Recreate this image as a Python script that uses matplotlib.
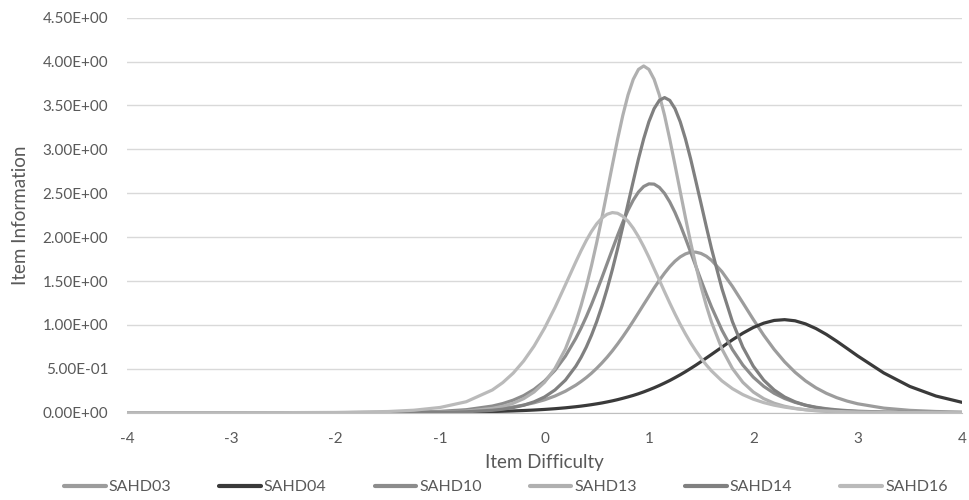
import matplotlib
matplotlib.use('Agg')
import matplotlib.pyplot as plt
from matplotlib.ticker import FuncFormatter, MultipleLocator

plt.rcParams['font.family'] = ['Lato', 'DejaVu Sans']

# item difficulty (theta) grid, denser around the peaks
theta = [-4, -3.5, -3, -2.5, -2, -1.5, -1.25, -1, -0.75,
         -0.5, -0.4, -0.3, -0.2, -0.1, 0, 0.1, 0.2,
         0.3, 0.35, 0.4, 0.45, 0.5, 0.55, 0.6, 0.65, 0.7, 0.75,
         0.8, 0.85, 0.9, 0.95, 1.0, 1.05, 1.1, 1.15, 1.2, 1.25,
         1.3, 1.35, 1.4, 1.45, 1.5, 1.55, 1.6,
         1.7, 1.8, 1.9, 2.0, 2.1, 2.2, 2.3, 2.4, 2.5,
         2.6, 2.7, 2.8, 2.9, 3.0, 3.25, 3.5, 3.75, 4]

sahd03 = [0, 0, 0, 0.0002, 0.0007, 0.0026, 0.0052, 0.0102, 0.020,
          0.039, 0.051, 0.0665, 0.0867, 0.113, 0.1465, 0.190, 0.245,
          0.314, 0.355, 0.400, 0.450, 0.506, 0.567, 0.633, 0.705, 0.783, 0.866,
          0.953, 1.044, 1.138, 1.233, 1.326, 1.421, 1.508, 1.590, 1.664, 1.726,
          1.775, 1.809, 1.829, 1.829, 1.814, 1.783, 1.736,
          1.606, 1.439, 1.252, 1.063, 0.883, 0.721, 0.580, 0.461, 0.363,
          0.284, 0.221, 0.171, 0.132, 0.1017, 0.0524, 0.0268, 0.0137, 0.007]

sahd04 = [0, 0, 0.0001, 0.0002, 0.0006, 0.0017, 0.0029, 0.0048, 0.0081,
          0.0134, 0.0165, 0.0202, 0.0248, 0.0304, 0.0372, 0.0456, 0.0557,
          0.0681, 0.0751, 0.083, 0.0916, 0.101, 0.111, 0.1227, 0.135, 0.1487, 0.164,
          0.180, 0.197, 0.216, 0.237, 0.260, 0.284, 0.310, 0.338, 0.367, 0.399,
          0.432, 0.467, 0.504, 0.542, 0.582, 0.623, 0.664,
          0.747, 0.830, 0.906, 0.971, 1.020, 1.051, 1.060, 1.047, 1.012,
          0.959, 0.892, 0.814, 0.731, 0.647, 0.453, 0.299, 0.190, 0.118]

sahd10 = [0, 0, 0, 0.0001, 0.0006, 0.003, 0.0068, 0.0152, 0.034,
          0.0758, 0.104, 0.143, 0.195, 0.266, 0.360, 0.483, 0.644,
          0.847, 0.964, 1.093, 1.233, 1.383, 1.539, 1.700, 1.861, 2.020, 2.170,
          2.306, 2.422, 2.514, 2.577, 2.607, 2.604, 2.567, 2.498, 2.401, 2.281,
          2.141, 1.988, 1.829, 1.668, 1.507, 1.352, 1.204,
          0.940, 0.720, 0.543, 0.405, 0.300, 0.221, 0.162, 0.118, 0.086,
          0.0626, 0.0454, 0.033, 0.024, 0.0174, 0.0077, 0.0035, 0.0015, 0.0007]

sahd13 = [0, 0, 0, 0, 0.0001, 0.001, 0.0025, 0.0068, 0.018,
          0.049, 0.073, 0.108, 0.160, 0.236, 0.346, 0.504, 0.726,
          1.031, 1.221, 1.435, 1.675, 1.939, 2.223, 2.521, 2.821, 3.115, 3.387,
          3.620, 3.798, 3.911, 3.950, 3.911, 3.798, 3.620, 3.387, 3.115, 2.821,
          2.521, 2.223, 1.939, 1.675, 1.435, 1.221, 1.031,
          0.726, 0.504, 0.346, 0.236, 0.160, 0.108, 0.073, 0.049, 0.033,
          0.022, 0.015, 0.010, 0.0068, 0.0046, 0.0017, 0.0006, 0.0002, 0.0001]

sahd14 = [0, 0, 0, 0, 0.0001, 0.0006, 0.0016, 0.0041, 0.0107,
          0.0275, 0.040, 0.0585, 0.085, 0.124, 0.179, 0.259, 0.371,
          0.530, 0.630, 0.747, 0.883, 1.038, 1.215, 1.412, 1.631, 1.868, 2.120,
          2.380, 2.637, 2.891, 3.120, 3.315, 3.464, 3.558, 3.590, 3.558, 3.464,
          3.315, 3.120, 2.891, 2.637, 2.380, 2.120, 1.868,
          1.412, 1.038, 0.747, 0.530, 0.371, 0.259, 0.179, 0.124, 0.085,
          0.0585, 0.040, 0.0275, 0.0189, 0.0129, 0.005, 0.0019, 0.0008, 0.0003]

sahd16 = [0, 0, 0.0001, 0.0007, 0.003, 0.0134, 0.0284, 0.0598, 0.125,
          0.259, 0.343, 0.451, 0.589, 0.759, 0.963, 1.198, 1.457,
          1.719, 1.845, 1.962, 2.065, 2.152, 2.218, 2.261, 2.280, 2.272, 2.238,
          2.181, 2.102, 2.005, 1.893, 1.771, 1.640, 1.510, 1.378, 1.249, 1.125,
          1.007, 0.898, 0.796, 0.704, 0.619, 0.544, 0.476,
          0.362, 0.274, 0.206, 0.154, 0.115, 0.0855, 0.0635, 0.0471, 0.0349,
          0.0259, 0.0192, 0.0142, 0.0105, 0.0078, 0.0036, 0.0017, 0.0008, 0.0004]

labels = ['SAHD03', 'SAHD04', 'SAHD10', 'SAHD13', 'SAHD14', 'SAHD16']
series = [sahd03, sahd04, sahd10, sahd13, sahd14, sahd16]
colors = ['#9c9c9c', '#3a3a3a', '#8c8c8c', '#b0b0b0', '#808080', '#bababa']

fig = plt.figure(figsize=(9.69, 5.0), dpi=100)
ax = fig.add_axes([0.1311, 0.1746, 0.8617, 0.79])

for lab, vals, col in zip(labels, series, colors):
    ax.plot(theta, vals, color=col, lw=2.3, label=lab, solid_capstyle='round')

ax.set_xlim(-4, 4)
ax.set_ylim(0, 4.5)
ax.yaxis.set_major_locator(MultipleLocator(0.5))
ax.xaxis.set_major_locator(MultipleLocator(1))
ax.yaxis.set_major_formatter(FuncFormatter(lambda v, p: '{:.2E}'.format(v)))
ax.xaxis.set_major_formatter(FuncFormatter(lambda v, p: '{:g}'.format(v)))

ax.grid(axis='y', color='#d9d9d9', lw=1)
ax.set_axisbelow(True)
for s in ['top', 'right', 'left']:
    ax.spines[s].set_visible(False)
ax.spines['bottom'].set_color('#bfbfbf')
ax.tick_params(axis='both', length=0, labelsize=11, labelcolor='#595959')
ax.tick_params(axis='y', pad=13.5)
ax.tick_params(axis='x', pad=14)

ax.set_xlabel('Item Difficulty', fontsize=13.5, color='#595959', labelpad=6)
ax.set_ylabel('Item Information', fontsize=13.5, color='#595959', labelpad=10)

leg = fig.legend(loc='center', bbox_to_anchor=(0.522, 0.026), ncol=6, frameon=False,
                 fontsize=11.5, labelcolor='#595959', handlelength=2.6,
                 handletextpad=0.2, columnspacing=3.0)
for h in leg.get_lines():
    h.set_linewidth(3)

fig.savefig('out.png', dpi=100)
